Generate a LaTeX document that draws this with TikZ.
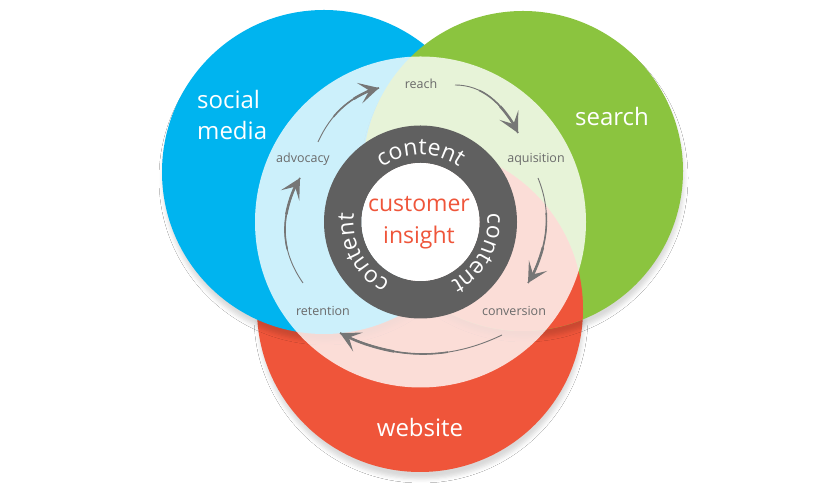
\documentclass[tikz,border=0pt]{standalone}
\usepackage{fontspec}
\setmainfont{Open Sans}
\usetikzlibrary{decorations.text,arrows.meta,shadows.blur,calc}
\definecolor{cblue}{HTML}{00B4EF}
\definecolor{cgreen}{HTML}{8BC43F}
\definecolor{cred}{HTML}{EF553A}
\definecolor{ringc}{HTML}{606060}
\definecolor{lbl}{HTML}{6A6A6A}
\definecolor{arrc}{HTML}{767676}
\newcommand{\ringfont}{\fontsize{23}{23}\selectfont\color{white}}
% tapered arrow: #1 start, #2 #3 controls, #4 end (coordinate names)
\newcommand{\taperarrow}[4]{%
  \draw[flowline, line width=0.9pt] (#1) .. controls (#2) and (#3) .. (#4);
  \draw[flowline, line width=1.6pt]
    ($0.2963*(#1)+0.4444*(#2)+0.2222*(#3)+0.0370*(#4)$)
    .. controls ($0.4444*(#2)+0.4444*(#3)+0.1112*(#4)$)
    and ($0.6667*(#3)+0.3333*(#4)$) .. (#4);
  \draw[flowline, line width=2.5pt, -{Stealth[length=20pt,width=21pt,inset=10pt]}]
    ($0.0370*(#1)+0.2222*(#2)+0.4444*(#3)+0.2964*(#4)$)
    .. controls ($0.1112*(#2)+0.4444*(#3)+0.4444*(#4)$)
    and ($0.3333*(#3)+0.6667*(#4)$) .. (#4);
}
\begin{document}
\begin{tikzpicture}[x=1pt,y=1pt,
  lab/.style={font=\fontsize{12.5}{14}\selectfont, text=lbl, inner sep=0pt},
  big/.style={font=\fontsize{24}{31}\selectfont, text=white, inner sep=0pt},
  flowline/.style={draw=arrc},
  shad/.style={blur shadow={shadow xshift=1pt, shadow yshift=-7pt, shadow blur radius=4pt, shadow opacity=15}},
  ringtext/.style={decorate, decoration={text along path, text align=center, text={|\ringfont|content}}}]
\fill[white] (0,0) rectangle (840,494);
\useasboundingbox (0,0) rectangle (840,494);
% big circles (cyclic overlap)
\fill[cred,shad] (420,185) circle (163);
\fill[cblue,shad] (324,322) circle (162);
\fill[cgreen,shad] (523,323) circle (160);
\begin{scope}
  \clip (523,323) circle (160);
  \fill[cred] (420,185) circle (163);
\end{scope}
% light overlay
\coordinate (C) at (420.5,272);
\fill[white,opacity=0.8] (C) circle (165.5);
% ring
\fill[ringc,even odd rule] (C) circle (96.5) (C) circle (59);
\fill[white] (C) circle (59);
\path[ringtext] ($(C)+(162:67)$) arc[start angle=162, end angle=18, radius=67];
\path[ringtext] ($(C)+(44:67)$) arc[start angle=44, end angle=-100, radius=67];
\path[ringtext] ($(C)+(280:67)$) arc[start angle=280, end angle=136, radius=67];
% center text
\node[font=\fontsize{23}{32}\selectfont, text=cred, align=center, inner sep=0pt] (ci) at (419,271) {customer\\insight};
% outer labels
\node[big, align=left, anchor=west] (sm) at (197,378.5) {social\\media};
\node[big] (se) at (612,377) {search};
\node[big] (we) at (420,66) {website};
% cycle labels
\node[lab] (reach) at (421,410) {reach};
\node[lab] (aqu) at (536,335) {aquisition};
\node[lab] (adv) at (303,335) {advocacy};
\node[lab] (ret) at (323,183) {retention};
\node[lab] (conv) at (514,183) {conversion};
% arrows
\coordinate (a1) at (455,409); \coordinate (p1) at (480.7,409); \coordinate (q1) at (501.7,393); \coordinate (b1) at (518,361);
\coordinate (a2) at (538,316); \coordinate (p2) at (552,281.7); \coordinate (q2) at (548.7,246.7); \coordinate (b2) at (528,211);
\coordinate (a3) at (502,159); \coordinate (p3) at (448,133); \coordinate (q3) at (394,133.7); \coordinate (b3) at (340,161);
\coordinate (a4) at (303,211); \coordinate (p4) at (280,244); \coordinate (q4) at (279,279); \coordinate (b4) at (300,316);
\coordinate (a5) at (318,352); \coordinate (p5) at (331,380.7); \coordinate (q5) at (351.3,398.7); \coordinate (b5) at (379,406);
\taperarrow{a1}{p1}{q1}{b1}
\taperarrow{a2}{p2}{q2}{b2}
\taperarrow{a3}{p3}{q3}{b3}
\taperarrow{a4}{p4}{q4}{b4}
\taperarrow{a5}{p5}{q5}{b5}
\end{tikzpicture}
\end{document}
